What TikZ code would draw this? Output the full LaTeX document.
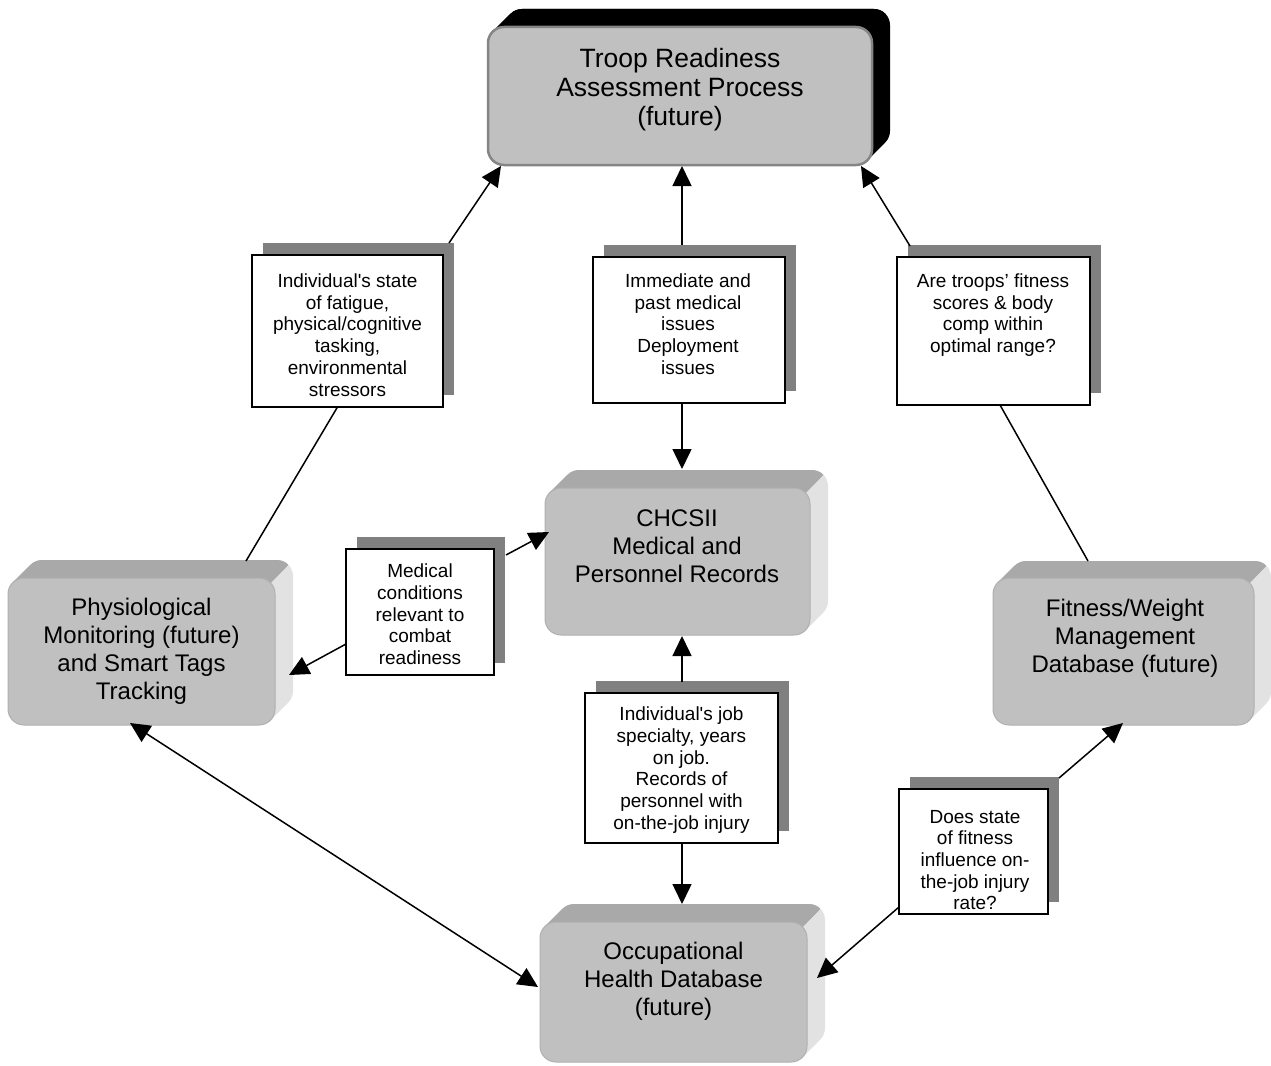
\documentclass[tikz,border=0pt]{standalone}
\usepackage{fontspec}
\setmainfont{Liberation Sans}
\usetikzlibrary{arrows.meta,calc,shadows}
\definecolor{face}{HTML}{C0C0C0}
\definecolor{facerim}{HTML}{B0B0B0}
\definecolor{toprim}{HTML}{858585}
\definecolor{topface}{HTML}{A9A9A9}
\definecolor{sideface}{HTML}{E2E2E2}
\definecolor{shade}{HTML}{808080}
\newcommand{\tdbox}[7]{%
  \foreach \i in {#5,...,1}{\fill[#7, rounded corners=16pt] ({#1+\i},{#2-\i}) rectangle ({#3+\i},{#4-\i});}
  \begin{scope}
    \clip ({#3+300},{#2-300}) -- ({#3-500},{#2+500}) -- ({#3-1500},{#2-300}) -- cycle;
    \foreach \i in {#5,...,1}{\fill[#6, rounded corners=16pt] ({#1+\i},{#2-\i}) rectangle ({#3+\i},{#4-\i});}
  \end{scope}}
\tikzset{
  front/.style={rectangle, rounded corners=16pt, fill=face, draw=facerim, line width=1pt, inner sep=0pt, outer sep=0pt},
  topfront/.style={front, draw=toprim, line width=2.5pt},
  title/.style={align=center, font=\fontsize{24}{28}\selectfont, inner sep=0pt},
  bigtitle/.style={align=center, font=\fontsize{26.5}{29}\selectfont, inner sep=0pt},
  lab/.style={rectangle, draw=black, fill=white, line width=2pt, inner sep=0pt, outer sep=0pt,
    drop shadow={shadow xshift=11pt, shadow yshift=12pt, fill=shade, opacity=1}},
  labtext/.style={align=center, font=\fontsize{19}{21.7}\selectfont, inner sep=0pt},
  conn/.style={line width=1.5pt},
  arr/.style={conn, -{Triangle[length=20pt,width=19pt]}},
  darr/.style={conn, {Triangle[length=20pt,width=19pt]}-{Triangle[length=20pt,width=19pt]}},
}
\begin{document}
\begin{tikzpicture}[x=1pt,y=-1pt]
\useasboundingbox (0,0) rectangle (1271,1065);
\fill[white] (0,0) rectangle (1271,1065);

% 3D boxes
\tdbox{488}{27}{872}{165}{18}{black}{black}
\node[topfront, minimum width=384, minimum height=138] (troop) at (680,96) {};
\node[bigtitle] (troopT) at (680,90) {Troop Readiness\\Assessment Process\\(future)};

\tdbox{545}{488}{810}{635}{18}{topface}{sideface}
\node[front, minimum width=265, minimum height=147] (chc) at (677.5,561.5) {};
\node[title] (chcT) at (677,546) {CHCSII\\Medical and\\Personnel Records};

\tdbox{8}{578}{275}{725}{18}{topface}{sideface}
\node[front, minimum width=267, minimum height=147] (phys) at (141.5,651.5) {};
\node[title] (physT) at (141.5,651) {Physiological\\Monitoring (future)\\and Smart Tags\\Tracking};

\tdbox{993}{578}{1254}{725}{17}{topface}{sideface}
\node[front, minimum width=261, minimum height=147] (fit) at (1123.5,651.5) {};
\node[title] (fitT) at (1125,638) {Fitness/Weight\\Management\\Database (future)};

\tdbox{540}{922}{807}{1062}{18}{topface}{sideface}
\node[front, minimum width=267, minimum height=140] (occ) at (673.5,992) {};
\node[title] (occT) at (673.5,981) {Occupational\\Health Database\\(future)};

% label boxes
\node[lab, minimum width=191, minimum height=152] (L1) at (347.5,331) {};
\node[labtext] (L1t) at (347.5,335) {Individual\textquotesingle s state\\of fatigue,\\physical/cognitive\\tasking,\\environmental\\stressors};

\node[lab, minimum width=192, minimum height=146] (L2) at (689,330) {};
\node[labtext] (L2t) at (688,324) {Immediate and\\past medical\\issues\\Deployment\\issues};

\node[lab, minimum width=193, minimum height=148] (L3) at (993.5,331) {};
\node[labtext] (L3t) at (993,315) {Are troops’ fitness\\scores \& body\\comp within\\optimal range?};

\node[lab, minimum width=148, minimum height=126] (L4) at (420,612) {};
\node[labtext] (L4t) at (420,614.5) {Medical\\conditions\\relevant to\\combat\\readiness};

\node[lab, minimum width=193, minimum height=150] (L5) at (681.5,768) {};
\node[labtext] (L5t) at (681.5,770) {Individual\textquotesingle s job\\specialty, years\\on job.\\Records of\\personnel with\\on-the-job injury};

\node[lab, minimum width=149, minimum height=125] (L6) at (973.5,851.5) {};
\node[labtext] (L6t) at (975,860) {Does state\\of fitness\\influence on-\\the-job injury\\rate?};

% connectors
\draw[arr] ($(L1.north east)+(6,-12)$) -- ($(troop.south west)+(13,1)$);
\draw[conn] ($(L1.south)+(-10,0)$) -- ($(phys.north west)+(238,-17)$);
\draw[arr] ($(L2.north)+(-7,-12)$) -- ($(troop.south)+(2,1)$);
\draw[arr] ($(L2.south)+(-7,0)$) -- ($(chc.north)+(4.5,-19)$);
\draw[arr] ($(L3.north west)+(13,-11)$) -- ($(troop.south east)+(-11,1)$);
\draw[conn] ($(L3.south)+(6.5,0)$) -- ($(fit.north west)+(95,-17)$);
\draw[arr] ($(L4.north east)+(12,6)$) -- ($(chc.west)+(4,-29.5)$);
\draw[arr] ($(L4.west)+(0,32)$) -- ($(phys.east)+(14,23.5)$);
\draw[arr] ($(L5.north)+(0.5,-11)$) -- ($(chc.south)+(4.5,1)$);
\draw[arr] ($(L5.south)+(0.5,0)$) -- ($(occ.north)+(8.5,-18)$);
\draw[arr] ($(L6.north east)+(11,-11)$) -- ($(fit.south west)+(130,-2)$);
\draw[arr] ($(L6.south west)+(0,-7)$) -- ($(occ.east)+(10,-14)$);
\draw[darr] ($(phys.south west)+(122,-2)$) -- ($(occ.west)+(-2,-5)$);
\end{tikzpicture}
\end{document}
